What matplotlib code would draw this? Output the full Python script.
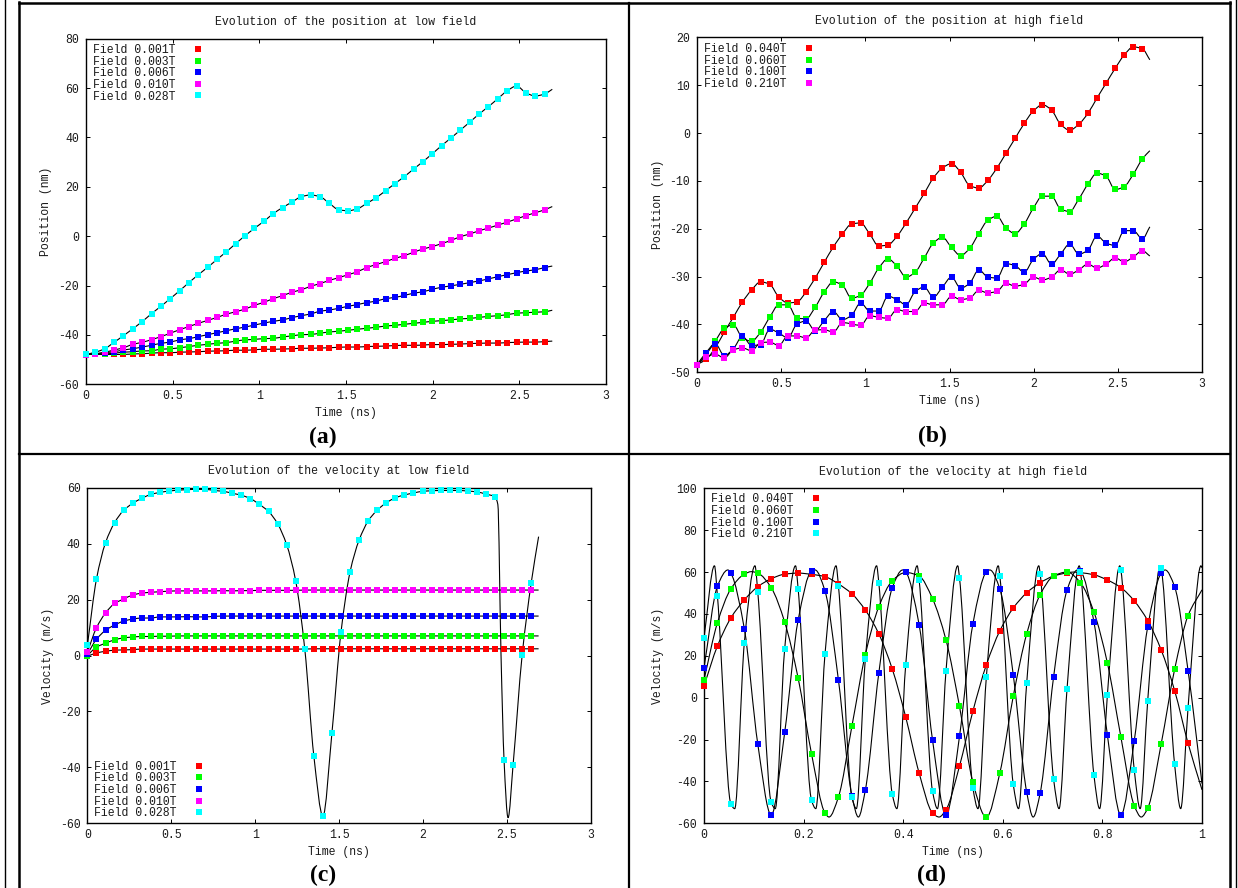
import matplotlib
matplotlib.use("Agg")
import matplotlib.pyplot as plt
import numpy as np
from matplotlib.lines import Line2D
from matplotlib.patches import PathPatch
from matplotlib.path import Path
from matplotlib.ticker import FuncFormatter

plt.rcParams["font.family"] = ["Liberation Mono", "DejaVu Sans Mono"]

W, H = 1238, 888
TEXT = "#1a1a1a"
COLORS = ["#ff0000", "#00ff00", "#0000ff", "#ff00ff", "#00ffff"]

# ---------------------------------------------------------------- data
low_t = [0.0, 0.054, 0.108, 0.162, 0.216, 0.27, 0.324, 0.378, 0.432, 0.486,
         0.54, 0.594, 0.648, 0.702, 0.756, 0.81, 0.864, 0.918, 0.972, 1.026,
         1.08, 1.134, 1.188, 1.242, 1.296, 1.35, 1.404, 1.458, 1.512, 1.566,
         1.62, 1.674, 1.728, 1.782, 1.836, 1.89, 1.944, 1.998, 2.052, 2.106,
         2.16, 2.214, 2.268, 2.322, 2.376, 2.43, 2.484, 2.538, 2.592, 2.646]
high_t = [0.0, 0.027, 0.054, 0.081, 0.108, 0.135, 0.162, 0.189, 0.216, 0.243,
          0.27, 0.297, 0.324, 0.351, 0.378, 0.405, 0.432, 0.459, 0.486, 0.513,
          0.54, 0.567, 0.594, 0.621, 0.648, 0.675, 0.702, 0.729, 0.756, 0.783,
          0.81, 0.837, 0.864, 0.891, 0.918, 0.945, 0.972]

low_fields = ["Field 0.001T", "Field 0.003T", "Field 0.006T", "Field 0.010T", "Field 0.028T"]
high_fields = ["Field 0.040T", "Field 0.060T", "Field 0.100T", "Field 0.210T"]

# (a) position at low field (nm)
pos_low = [
    [-47.9, -47.9, -47.9, -47.9, -47.9, -47.7, -47.6, -47.4, -47.2, -47.2,
     -47.0, -46.9, -46.8, -46.6, -46.5, -46.4, -46.2, -46.2, -46.0, -45.8,
     -45.8, -45.7, -45.6, -45.4, -45.4, -45.3, -45.2, -45.0, -44.9, -44.9,
     -44.7, -44.6, -44.5, -44.3, -44.2, -44.2, -44.1, -43.9, -43.9, -43.8,
     -43.7, -43.5, -43.4, -43.3, -43.3, -43.1, -43.0, -42.9, -42.9, -42.7],
    [-47.9, -47.9, -47.7, -47.4, -47.0, -46.8, -46.5, -46.4, -45.8, -45.6,
     -45.2, -44.7, -44.2, -43.8, -43.4, -43.1, -42.5, -42.0, -41.8, -41.5,
     -41.4, -40.8, -40.4, -39.9, -39.8, -39.3, -38.8, -38.5, -38.1, -37.7,
     -37.3, -36.9, -36.4, -36.1, -35.7, -35.3, -34.9, -34.5, -34.2, -33.9,
     -33.5, -33.3, -32.9, -32.5, -32.2, -31.8, -31.2, -31.0, -30.8, -30.6],
    [-47.9, -47.7, -47.2, -46.8, -46.1, -45.6, -44.9, -44.2, -43.4, -42.9,
     -42.0, -41.5, -40.7, -39.9, -39.1, -38.3, -37.5, -36.8, -36.0, -35.2,
     -34.5, -33.9, -33.0, -32.2, -31.5, -30.4, -29.9, -29.2, -28.4, -27.7,
     -26.9, -26.3, -25.3, -24.8, -24.0, -23.1, -22.5, -21.5, -20.7, -20.1,
     -19.5, -18.8, -18.1, -17.3, -16.4, -15.6, -14.8, -14.1, -13.6, -12.7],
    [-48.0, -47.6, -47.0, -46.1, -45.2, -43.8, -43.0, -41.9, -40.7, -39.3,
     -37.9, -36.6, -35.3, -34.1, -32.9, -31.6, -30.6, -29.5, -28.0, -26.8,
     -25.3, -24.1, -22.7, -21.7, -20.3, -19.2, -17.9, -16.8, -15.6, -14.4,
     -12.7, -11.5, -10.3, -9.0, -7.9, -6.5, -5.2, -4.2, -3.0, -1.7,
     -0.2, 0.9, 2.2, 3.3, 4.5, 5.7, 7.0, 8.3, 9.5, 10.7],
    [-47.9, -47.0, -45.6, -43.0, -40.3, -37.5, -34.6, -31.4, -28.4, -25.3,
     -22.1, -18.8, -15.6, -12.6, -9.4, -6.3, -3.0, 0.2, 3.2, 6.0,
     9.1, 11.6, 13.8, 16.0, 16.7, 16.0, 13.3, 10.7, 10.3, 11.1,
     13.3, 15.6, 18.4, 21.3, 24.1, 27.2, 30.2, 33.4, 36.7, 39.8,
     43.0, 46.2, 49.5, 52.5, 55.7, 58.9, 60.8, 58.1, 56.8, 57.6],
]
pos_low_end = [-42.5, -30.0, -12.1, 12.0, 59.5]

# (b) position at high field (nm)
pos_high = [
    [-48.4, -47.3, -44.9, -41.6, -38.5, -35.3, -32.8, -31.1, -31.6, -34.3,
     -35.5, -35.3, -33.2, -30.3, -27.0, -23.8, -21.1, -19.0, -18.8, -21.1,
     -23.6, -23.4, -21.6, -18.8, -15.7, -12.6, -9.4, -7.3, -6.4, -8.2,
     -11.0, -11.5, -9.9, -7.3, -4.2, -1.1, 2.0, 4.6, 5.9, 4.8,
     1.8, 0.6, 1.8, 4.1, 7.3, 10.4, 13.5, 16.3, 18.0, 17.6],
    [-48.4, -46.3, -43.5, -40.8, -40.1, -42.8, -43.5, -41.6, -38.5, -35.9,
     -35.9, -38.7, -38.8, -36.4, -33.2, -31.1, -31.8, -34.5, -33.9, -31.4,
     -28.2, -26.3, -27.8, -30.1, -29.1, -26.1, -23.0, -21.8, -23.9, -25.6,
     -24.1, -21.0, -18.2, -17.4, -19.9, -21.0, -19.0, -15.7, -13.2, -13.2,
     -15.9, -16.4, -13.8, -10.7, -8.4, -9.0, -11.8, -11.2, -8.6, -5.4],
    [-48.4, -45.9, -44.0, -46.5, -45.1, -42.5, -44.4, -44.2, -41.0, -41.8,
     -42.8, -39.9, -39.3, -41.3, -39.2, -37.3, -39.0, -38.1, -35.5, -37.2,
     -37.2, -34.1, -34.8, -35.9, -33.1, -32.2, -34.3, -32.2, -30.1, -32.4,
     -31.4, -28.6, -30.1, -30.3, -27.3, -27.7, -29.1, -26.4, -25.2, -27.4,
     -25.3, -23.2, -25.3, -24.5, -21.5, -23.0, -23.5, -20.4, -20.4, -22.1],
    [-48.4, -46.9, -46.2, -47.0, -45.3, -44.9, -45.5, -43.8, -43.7, -44.4,
     -42.4, -42.4, -42.8, -41.2, -41.1, -41.6, -39.6, -39.9, -40.2, -38.2,
     -38.5, -38.7, -36.9, -37.3, -37.3, -35.5, -35.9, -35.9, -34.1, -34.8,
     -34.5, -32.9, -33.4, -33.1, -31.4, -32.0, -31.6, -30.1, -30.7, -30.1,
     -28.6, -29.5, -28.6, -27.4, -28.2, -27.4, -26.1, -26.9, -25.9, -24.6],
]
pos_high_end = [15.3, -3.7, -19.6, -25.7]

# (c) velocity at low field (m/s)
vel_low = [
    [-0.3, 0.9, 1.5, 1.9, 2.0, 2.1, 2.3, 2.3, 2.3, 2.3,
     2.3, 2.3, 2.3, 2.3, 2.3, 2.3, 2.3, 2.3, 2.3, 2.3,
     2.3, 2.3, 2.3, 2.3, 2.3, 2.4, 2.4, 2.4, 2.4, 2.4,
     2.4, 2.4, 2.4, 2.4, 2.4, 2.4, 2.4, 2.4, 2.4, 2.4,
     2.4, 2.4, 2.4, 2.4, 2.4, 2.4, 2.4, 2.4, 2.4, 2.4],
    [0.0, 3.0, 4.4, 5.6, 6.3, 6.6, 6.8, 6.8, 6.9, 6.9,
     7.0, 7.0, 7.0, 7.0, 7.0, 7.0, 7.0, 7.0, 7.0, 7.0,
     7.0, 7.0, 7.0, 7.0, 7.0, 7.0, 7.0, 7.0, 7.0, 7.0,
     7.0, 7.0, 7.0, 7.0, 7.0, 7.0, 7.0, 7.0, 7.0, 7.0,
     7.0, 7.0, 7.0, 7.0, 7.0, 7.0, 7.0, 7.0, 7.0, 7.0],
    [0.5, 5.8, 9.0, 10.9, 12.3, 13.0, 13.4, 13.4, 13.8, 13.8,
     13.8, 13.9, 13.8, 13.8, 14.0, 14.1, 14.1, 14.1, 14.1, 14.1,
     14.1, 14.1, 14.1, 14.1, 14.1, 14.1, 14.1, 14.1, 14.1, 14.1,
     14.1, 14.1, 14.1, 14.1, 14.1, 14.1, 14.1, 14.1, 14.1, 14.1,
     14.1, 14.1, 14.1, 14.1, 14.1, 14.1, 14.1, 14.1, 14.1, 14.1],
    [1.2, 9.9, 15.2, 18.6, 20.2, 21.6, 22.3, 22.6, 22.8, 23.0,
     23.1, 23.1, 23.1, 23.1, 23.1, 23.2, 23.1, 23.2, 23.2, 23.3,
     23.3, 23.3, 23.3, 23.3, 23.4, 23.4, 23.4, 23.4, 23.4, 23.4,
     23.4, 23.4, 23.4, 23.4, 23.4, 23.4, 23.4, 23.4, 23.4, 23.4,
     23.4, 23.4, 23.4, 23.4, 23.4, 23.4, 23.4, 23.4, 23.4, 23.4],
    [3.7, 27.3, 40.3, 47.5, 51.9, 54.4, 56.2, 57.6, 58.3, 58.8,
     59.1, 59.3, 59.4, 59.4, 59.0, 58.7, 58.0, 57.3, 56.1, 54.0,
     51.5, 47.1, 39.6, 26.6, 2.3, -35.9, -57.4, -27.6, 8.4, 29.9,
     41.3, 48.1, 52.0, 54.6, 56.4, 57.4, 58.1, 58.7, 58.9, 59.0,
     59.0, 59.0, 58.8, 58.5, 57.7, 56.7, -37.4, -39.0, 0.2, 26.0],
]
vel_low_end = [2.4, 7.0, 14.1, 23.4, 42.5]
# extra points of the 0.028T curve between samples (fast reversal near 2.5 ns)
vel_low_cyan_xt = [2.447, 2.466, 2.508]
vel_low_cyan_xv = [54.0, 0.0, -58.0]

# (d) velocity at high field (m/s)
vel_high = [
    [5.6, 24.7, 38.1, 46.7, 53.0, 56.8, 59.0, 59.5, 58.9, 57.8,
     54.3, 49.6, 41.8, 30.5, 13.7, -9.2, -36.0, -55.1, -53.5, -32.7,
     -6.4, 15.7, 31.9, 42.8, 50.1, 54.9, 58.1, 59.6, 59.7, 58.7,
     56.2, 52.6, 46.2, 36.8, 22.8, 3.4, -21.8],
    [8.5, 35.8, 52.0, 59.0, 59.5, 52.5, 36.1, 9.4, -26.9, -55.1,
     -47.4, -13.6, 20.6, 43.4, 55.8, 59.8, 58.1, 47.2, 27.5, -4.1,
     -40.5, -57.1, -36.0, 0.7, 30.5, 49.2, 58.1, 60.0, 54.9, 40.9,
     16.6, -18.6, -51.6, -52.8, -22.1, 13.5, 39.2],
    [14.2, 53.3, 59.4, 32.9, -22.1, -56.0, -16.6, 37.0, 60.5, 50.9,
     8.3, -46.9, -44.1, 11.7, 52.5, 60.0, 34.8, -20.4, -56.1, -18.5,
     35.3, 60.0, 52.0, 10.9, -45.1, -45.6, 9.9, 51.4, 60.3, 36.2,
     -17.8, -56.0, -20.5, 33.9, 59.4, 53.0, 12.9],
    [28.6, 48.5, -50.8, 26.2, 50.4, -50.0, 23.3, 52.0, -49.1, 20.9,
     53.3, -47.5, 18.5, 54.9, -45.9, 15.5, 56.2, -44.8, 12.9, 57.3,
     -43.2, 9.9, 58.1, -41.3, 7.0, 59.2, -38.9, 4.2, 60.0, -37.0,
     1.3, 61.0, -34.5, -1.4, 61.8, -31.8, -4.8],
]
# turning points of the curves that fall between the samples, and the value at 1 ns
vel_high_xt = [
    [0.472, 0.742, 1.0],
    [0.095, 0.251, 0.878, 1.0],
    [0.048, 0.223, 0.310, 0.399, 0.574, 0.661, 0.750, 0.926, 1.0],
    [0.021, 0.0617, 0.1024, 0.1431, 0.1838, 0.2245, 0.2652, 0.3059, 0.3466,
     0.3873, 0.4281, 0.4688, 0.5095, 0.5502, 0.5909, 0.6316, 0.6723, 0.713,
     0.7537, 0.7944, 0.8351, 0.8758, 0.9165, 0.9572, 0.998, 1.0],
]
vel_high_xv = [
    [-57.0, 60.0, -44.0],
    [60.2, -57.0, -57.0, 51.5],
    [61.0, 61.0, -57.0, 61.0, 61.0, -57.0, 61.0, 61.0, -41.0],
    [63.0, -53.0, 63.0, -53.0, 63.0, -53.0, 63.0, -53.0, 63.0,
     -53.0, 63.0, -53.0, 63.0, -53.0, 63.0, -53.0, 63.0, -53.0,
     63.0, -53.0, 63.0, -53.0, 63.0, -53.0, 63.0, 62.0],
]
LINE_END_T = 2.69


# ---------------------------------------------------------------- helpers
def smooth_path(x, y):
    """Monotone cubic (Bezier) path through the given points."""
    order = np.argsort(x, kind="stable")
    x = np.asarray(x, float)[order]
    y = np.asarray(y, float)[order]
    h = np.diff(x)
    d = np.diff(y) / h
    m = np.zeros_like(y)
    m[0], m[-1] = d[0], d[-1]
    for k in range(1, len(x) - 1):
        if d[k - 1] * d[k] > 0:
            w1 = 2 * h[k] + h[k - 1]
            w2 = h[k] + 2 * h[k - 1]
            m[k] = (w1 + w2) / (w1 / d[k - 1] + w2 / d[k])
    verts = [(x[0], y[0])]
    codes = [Path.MOVETO]
    for k in range(len(h)):
        verts += [(x[k] + h[k] / 3, y[k] + m[k] * h[k] / 3),
                  (x[k + 1] - h[k] / 3, y[k + 1] - m[k + 1] * h[k] / 3),
                  (x[k + 1], y[k + 1])]
        codes += [Path.CURVE4] * 3
    return Path(verts, codes)


def box(left, top, right, bottom):
    return [left / W, 1 - bottom / H, (right - left) / W, (bottom - top) / H]


def panel(rect, title, ylabel, xlim, ylim, xstep, ystep, ylab_x):
    left, top, right, bottom = rect
    ax = fig.add_axes(box(*rect))
    ax.set_xlim(*xlim)
    ax.set_ylim(*ylim)
    ax.set_xticks(np.arange(xlim[0], xlim[1] + xstep / 2, xstep))
    ax.set_yticks(np.arange(ylim[0], ylim[1] + ystep / 2, ystep))
    fmt = FuncFormatter(lambda v, p: f"{v:g}")
    ax.xaxis.set_major_formatter(fmt)
    ax.yaxis.set_major_formatter(fmt)
    ax.tick_params(direction="in", top=True, right=True, length=3, width=0.7,
                   labelsize=8.3, labelcolor=TEXT)
    ax.tick_params(axis="x", pad=4)
    ax.tick_params(axis="y", pad=5)
    for s in ax.spines.values():
        s.set_linewidth(1.0)
    hpx = bottom - top
    ax.set_title(title, fontsize=8.3, color=TEXT, y=1 + 16.8 / hpx, va="center", pad=0)
    ax.set_xlabel("Time (ns)", fontsize=8.3, color=TEXT, va="center")
    ax.xaxis.set_label_coords(0.5, -29.0 / hpx)
    ax.set_ylabel(ylabel, fontsize=8.3, color=TEXT, va="center")
    ax.yaxis.set_label_coords((ylab_x - left) / (right - left), 0.5)
    return ax


def curves(ax, t, series, colors, extra_t, extra_v):
    for v, c, xt, xv in zip(series, colors, extra_t, extra_v):
        path = smooth_path(list(t) + list(xt), list(v) + list(xv))
        ax.add_patch(PathPatch(path, fill=False, edgecolor="black", lw=0.8, zorder=2))
        ax.plot(t, v, ls="none", marker="s", ms=5, mew=0, color=c, zorder=3, clip_on=False)


def key(ax, labels, colors, loc, anchor):
    handles = [Line2D([], [], ls="none", marker="s", ms=5, mew=0, color=c) for c in colors]
    leg = ax.legend(handles, labels, loc=loc, bbox_to_anchor=anchor, frameon=False,
                    markerfirst=False, handlelength=1.0, handletextpad=1.45,
                    labelspacing=-0.03, borderpad=0, borderaxespad=0, fontsize=8.3)
    for txt in leg.get_texts():
        txt.set_color(TEXT)


# ---------------------------------------------------------------- figure
fig = plt.figure(figsize=(W / 100, H / 100), dpi=100)
fig.patch.set_facecolor("white")

# table rules around the four cells
bg = fig.add_axes([0, 0, 1, 1], zorder=-5)
bg.set_xlim(0, W)
bg.set_ylim(H, 0)
bg.axis("off")
bg.plot([5, 5], [0, H], color="black", lw=1.0)
bg.plot([19, 19], [2, H], color="black", lw=1.8)
bg.plot([1236, 1236], [0, H], color="black", lw=1.0)
bg.plot([1230, 1230], [2, H], color="black", lw=1.8)
bg.plot([19, 1230], [3, 3], color="black", lw=1.8)
bg.plot([628.5, 628.5], [3, H], color="black", lw=1.6)
bg.plot([19, 1230], [453.5, 453.5], color="black", lw=1.6)

ax_a = panel((86, 38.7, 606, 384.3), "Evolution of the position at low field",
             "Position (nm)", (0, 3), (-60, 80), 0.5, 20, 46.5)
curves(ax_a, low_t, pos_low, COLORS, [[LINE_END_T]] * 5, [[e] for e in pos_low_end])
key(ax_a, low_fields, COLORS, "upper left", (0.014, 0.985))

ax_b = panel((697, 37.3, 1202, 372.3), "Evolution of the position at high field",
             "Position (nm)", (0, 3), (-50, 20), 0.5, 10, 658)
b_colors = COLORS[:3] + [COLORS[3]]
curves(ax_b, low_t, pos_high, b_colors, [[LINE_END_T]] * 4, [[e] for e in pos_high_end])
key(ax_b, high_fields, b_colors, "upper left", (0.0137, 0.983))

ax_c = panel((87.4, 487.7, 590.6, 823.3), "Evolution of the velocity at low field",
             "Velocity (m/s)", (0, 3), (-60, 60), 0.5, 20, 48)
c_xt = [[LINE_END_T]] * 4 + [vel_low_cyan_xt + [LINE_END_T]]
c_xv = [[e] for e in vel_low_end[:4]] + [vel_low_cyan_xv + [vel_low_end[4]]]
curves(ax_c, low_t, vel_low, COLORS, c_xt, c_xv)
key(ax_c, low_fields, COLORS, "lower left", (0.0125, 0.0115))

ax_d = panel((704, 488.3, 1202, 823.3), "Evolution of the velocity at high field",
             "Velocity (m/s)", (0, 1), (-60, 100), 0.2, 20, 658)
d_colors = COLORS[:3] + [COLORS[4]]
curves(ax_d, high_t, vel_high, d_colors, vel_high_xt, vel_high_xv)
key(ax_d, high_fields, d_colors, "upper left", (0.0133, 0.985))

for lab, (cx, cy) in zip(["(a)", "(b)", "(c)", "(d)"],
                         [(323, 437), (932, 436), (323, 875), (932, 875)]):
    fig.text(cx / W, 1 - cy / H, lab, ha="center", va="center", fontsize=17,
             fontweight="bold", family=["Liberation Serif", "DejaVu Serif"])

fig.savefig("out.png", dpi=100)
